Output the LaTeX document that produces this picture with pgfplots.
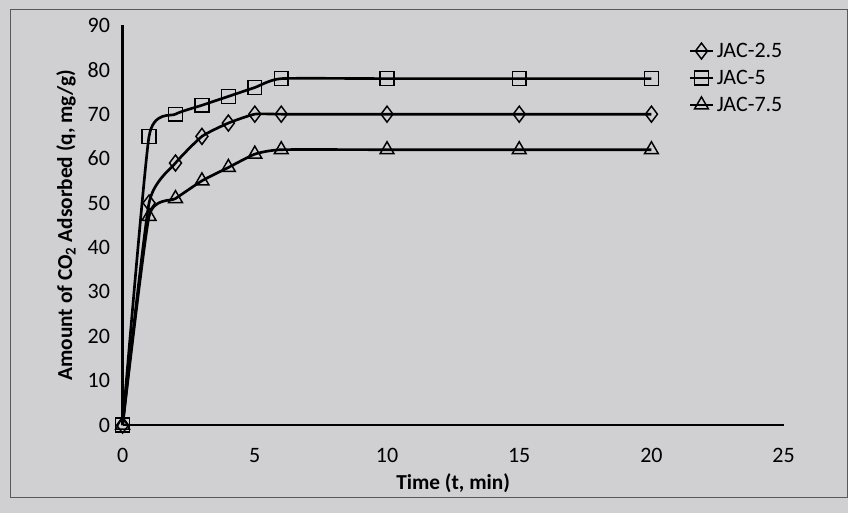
\documentclass[border=0pt]{standalone}
\usepackage{pgfplots}
\pgfplotsset{compat=1.18}
\usepackage{fontspec}
\setmainfont{Carlito}
\definecolor{bg}{RGB}{208,208,210}
\begin{document}
\begin{tikzpicture}
\fill[bg] (-92pt,-66pt) rectangle (544pt,319pt);
\draw[gray!70!black, line width=0.6pt] (-84pt,-54pt) rectangle (544pt,312pt);
\begin{axis}[
  at={(0,0)}, anchor=south west,
  scale only axis, width=496pt, height=300pt,
  xmin=0, xmax=25, ymin=0, ymax=90,
  axis x line=bottom, axis y line=left,
  axis line style={line width=1.8pt, -},
  xtick={0,5,...,25}, ytick={0,10,...,90},
  major tick length=0pt,
  /pgf/number format/assume math mode=true,
  ticklabel style={font=\fontsize{16.5}{19}\selectfont},
  xticklabel style={yshift=-14pt},
  yticklabel style={xshift=-6pt},
  xlabel={\textbf{Time (t, min)}},
  ylabel={\textbf{Amount of CO\textsubscript{2} Adsorbed (q, mg/g)}},
  label style={font=\fontsize{16}{19}\selectfont},
  xlabel style={yshift=-1pt},
  ylabel style={yshift=2pt},
  legend style={draw=none, fill=none, at={(0.85,0.97)}, anchor=north west,
    font=\fontsize{16.5}{19}\selectfont, row sep=4pt},
  legend cell align=left,
  every axis plot/.append style={line width=2pt, black, smooth, tension=0.3},
  clip=false,
]
\addplot[mark=diamond, mark size=6pt, mark options={fill=bg, line width=1.1pt, solid}] coordinates {
(0,0) (1,50) (2,59) (3,65) (4,68) (5,70) (6,70) (10,70) (15,70) (20,70)};
\addlegendentry{JAC-2.5}
\addplot[mark=square, mark size=5.2pt, mark options={fill=bg, line width=1.1pt, solid}] coordinates {
(0,0) (1,65) (2,70) (3,72) (4,74) (5,76) (6,78) (10,78) (15,78) (20,78)};
\addlegendentry{JAC-5}
\addplot[mark=triangle, mark size=6pt, mark options={fill=bg, line width=1.1pt, solid}] coordinates {
(0,0) (1,47) (2,51) (3,55) (4,58) (5,61) (6,62) (10,62) (15,62) (20,62)};
\addlegendentry{JAC-7.5}
\end{axis}
\end{tikzpicture}
\end{document}
